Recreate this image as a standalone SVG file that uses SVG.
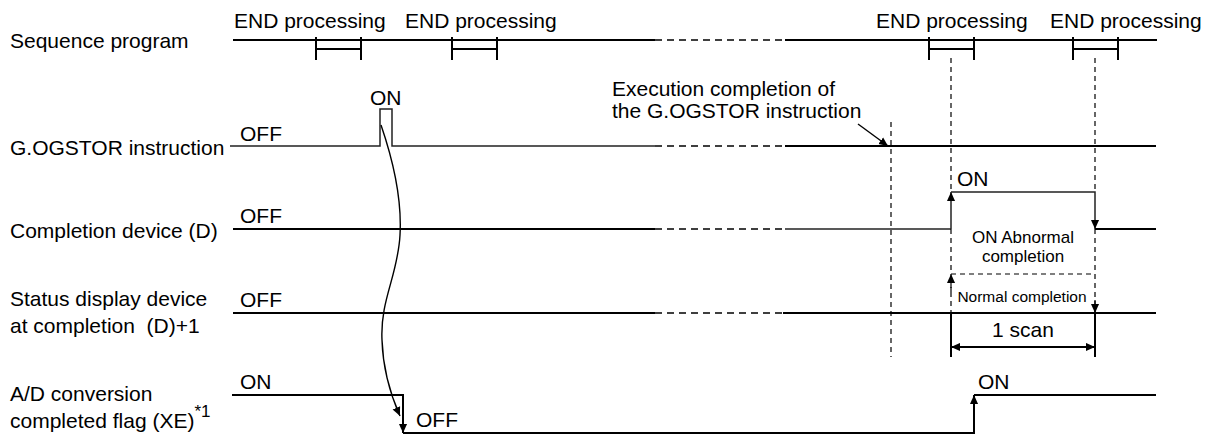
<svg xmlns="http://www.w3.org/2000/svg" width="1216" height="436" viewBox="0 0 1216 436">
<defs>
<style>
text{font-family:"Liberation Sans",Arial,sans-serif;fill:#000;}
.lbl{font-size:21px;}
.sm{font-size:17px;}
.xs{font-size:15.5px;}
.sig{fill:none;stroke:#000;stroke-width:2;}
.thin{fill:none;stroke:#222;stroke-width:1.5;}
.dash{fill:none;stroke:#000;stroke-width:1.3;stroke-dasharray:7,5;}
.vdash{fill:none;stroke:#000;stroke-width:1.2;stroke-dasharray:5,4;}
</style>
<marker id="ah" viewBox="0 0 10 10" refX="10" refY="5" markerWidth="9" markerHeight="9" markerUnits="userSpaceOnUse" orient="auto-start-reverse">
<path d="M0,0.5 L10,5 L0,9.5 z" fill="#000"/>
</marker>
</defs>

<g id="labels">
<text class="lbl" x="10" y="48">Sequence program</text>
<text class="lbl" x="10" y="155">G.OGSTOR instruction</text>
<text class="lbl" x="10" y="238">Completion device (D)</text>
<text class="lbl" x="10" y="306">Status display device</text>
<text class="lbl" x="10" y="333" xml:space="preserve">at completion  (D)+1</text>
<text class="lbl" x="10" y="401">A/D conversion</text>
<text class="lbl" x="10" y="428">completed flag (XE)<tspan font-size="17" dy="-11">*1</tspan></text>
</g>

<g id="sequence-program">
<path class="sig" d="M233,40 H655 M785,40 H1157"/>
<path class="dash" d="M655,40 H785"/>
<path class="sig" d="M316,37 V60 M361,37 V60 M316,49 H361"/>
<path class="sig" d="M452,37 V60 M497,37 V60 M452,49 H497"/>
<path class="sig" d="M929,37 V60 M974,37 V60 M929,49 H974"/>
<path class="sig" d="M1073,37 V60 M1118,37 V60 M1073,49 H1118"/>
<text class="lbl" x="234" y="28">END processing</text>
<text class="lbl" x="405" y="28">END processing</text>
<text class="lbl" x="876" y="28">END processing</text>
<text class="lbl" x="1050" y="28">END processing</text>
</g>

<g id="gogstor-instruction">
<path class="thin" d="M230,146 H380 V109 H392 V146 H655"/>
<path class="dash" d="M655,146 H785"/>
<path class="sig" d="M785,146 H1156"/>
<text class="lbl" x="240" y="141">OFF</text>
<text class="lbl" x="370" y="105">ON</text>
</g>

<g id="completion-device">
<path class="sig" d="M233,229 H655"/>
<path class="dash" d="M655,229 H785"/>
<path class="thin" d="M785,229 H951"/>
<path class="thin" d="M951,229 V192" marker-end="url(#ah)"/>
<path class="thin" d="M951,192 H1095 V229" marker-end="url(#ah)"/>
<path class="sig" d="M1095,229 H1156"/>
<text class="lbl" x="240" y="223">OFF</text>
<text class="lbl" x="957" y="186">ON</text>
<text class="sm" x="1023" y="243" text-anchor="middle">ON Abnormal</text>
<text class="sm" x="1023" y="262" text-anchor="middle">completion</text>
</g>

<g id="status-display-device">
<path class="sig" d="M233,313 H655"/>
<path class="dash" d="M655,313 H783"/>
<path class="sig" d="M783,313 H1156"/>
<text class="lbl" x="240" y="307">OFF</text>
<text class="xs" x="1022" y="302" text-anchor="middle">Normal completion</text>
</g>

<g id="ad-conversion-flag">
<path class="sig" d="M232,395 H403 V433" marker-end="url(#ah)"/>
<path class="sig" d="M403,433 H974 V395" marker-end="url(#ah)"/>
<path class="sig" d="M974,395 H1156"/>
<text class="lbl" x="240" y="389">ON</text>
<text class="lbl" x="416" y="427">OFF</text>
<text class="lbl" x="978" y="389">ON</text>
</g>

<g id="connectors">
<path class="vdash" d="M891,122 V357"/>
<path class="vdash" d="M951,58 V192 M951,229 V313"/>
<path class="vdash" d="M1095,58 V192 M1095,229 V313"/>
<path class="vdash" d="M951,274 H1095"/>
<path class="vdash" d="M951,292 V274" marker-end="url(#ah)"/>
<path class="vdash" d="M1095,300 V313" marker-end="url(#ah)"/>
<path class="sig" d="M951,313 V357 M1095,313 V357"/>
<path class="sig" d="M951,347 H1095" marker-start="url(#ah)" marker-end="url(#ah)"/>
<text class="lbl" x="1023" y="337" text-anchor="middle">1 scan</text>
<path fill="none" stroke="#000" stroke-width="1.4" d="M381,125 C393,160 402,200 400,235 C398,275 380,300 382,340 C383,372 392,398 400,416" marker-end="url(#ah)"/>
<path fill="none" stroke="#000" stroke-width="1.4" d="M858,124 L888,146" marker-end="url(#ah)"/>
<text class="lbl" x="612" y="96">Execution completion of</text>
<text class="lbl" x="612" y="118">the G.OGSTOR instruction</text>
</g>
</svg>
